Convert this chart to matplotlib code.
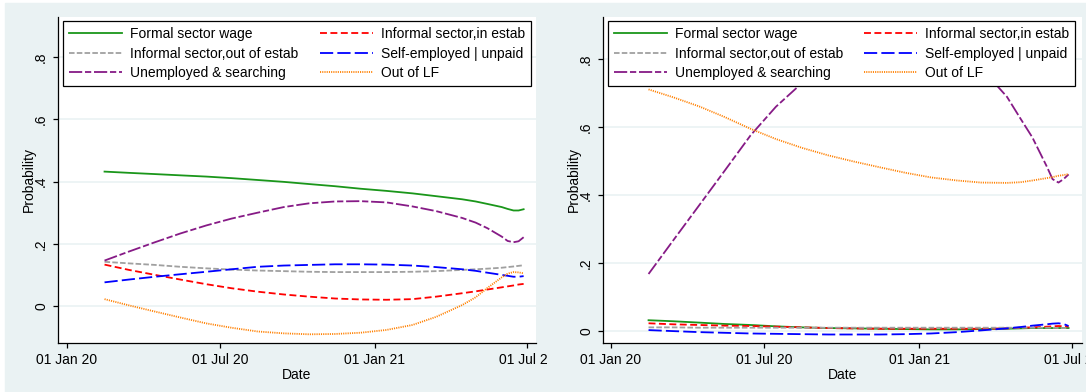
import numpy as np
import matplotlib
matplotlib.use("Agg")
import matplotlib.pyplot as plt
import matplotlib.dates as mdates
from matplotlib.patches import Rectangle

plt.rcParams["font.family"] = ["Liberation Sans", "DejaVu Sans"]
plt.rcParams["lines.scale_dashes"] = False

# ---- data ----
dates = np.array(["2020-02-15", "2020-03-15", "2020-04-15", "2020-05-15", "2020-06-15",
                  "2020-07-15", "2020-08-15", "2020-09-15", "2020-10-15", "2020-11-15",
                  "2020-12-15", "2021-01-15", "2021-02-15", "2021-03-15", "2021-04-15",
                  "2021-05-01", "2021-05-15", "2021-06-01", "2021-06-08", "2021-06-15",
                  "2021-06-21", "2021-06-27"], dtype="datetime64[D]")

labels = ["Formal sector wage", "Informal sector,in estab",
          "Informal sector,out of estab", "Self-employed | unpaid",
          "Unemployed & searching", "Out of LF"]

left_formal = [0.432, 0.428, 0.424, 0.420, 0.416, 0.411, 0.405, 0.399, 0.392, 0.385, 0.377,
               0.370, 0.362, 0.353, 0.343, 0.336, 0.328, 0.318, 0.312, 0.307, 0.307, 0.311]
left_in_estab = [0.133, 0.116, 0.100, 0.085, 0.070, 0.057, 0.046, 0.037, 0.030, 0.024, 0.021,
                 0.020, 0.022, 0.030, 0.041, 0.047, 0.053, 0.060, 0.063, 0.066, 0.069, 0.071]
left_out_estab = [0.142, 0.137, 0.132, 0.126, 0.121, 0.117, 0.114, 0.112, 0.110, 0.109, 0.109,
                  0.109, 0.110, 0.112, 0.116, 0.118, 0.120, 0.123, 0.125, 0.127, 0.129, 0.131]
left_self_emp = [0.076, 0.085, 0.094, 0.102, 0.110, 0.118, 0.126, 0.130, 0.132, 0.134, 0.134,
                 0.133, 0.130, 0.125, 0.118, 0.113, 0.107, 0.100, 0.097, 0.094, 0.094, 0.096]
left_unemp = [0.146, 0.175, 0.205, 0.233, 0.259, 0.281, 0.300, 0.318, 0.330, 0.336, 0.337,
              0.333, 0.320, 0.305, 0.283, 0.268, 0.250, 0.223, 0.209, 0.205, 0.208, 0.221]
left_out_lf = [0.022, 0.002, -0.018, -0.037, -0.056, -0.070, -0.082, -0.088, -0.091, -0.090,
               -0.086, -0.077, -0.061, -0.035, 0.003, 0.028, 0.058, 0.092, 0.104, 0.109, 0.108,
               0.105]

right_formal = [0.032, 0.029, 0.025, 0.021, 0.018, 0.014, 0.011, 0.009, 0.008, 0.007, 0.006,
                0.005, 0.005, 0.006, 0.007, 0.008, 0.009, 0.009, 0.009, 0.009, 0.009, 0.009]
right_in_estab = [0.023, 0.020, 0.018, 0.016, 0.015, 0.013, 0.011, 0.009, 0.008, 0.007, 0.007,
                  0.007, 0.007, 0.007, 0.008, 0.010, 0.011, 0.013, 0.014, 0.015, 0.014, 0.013]
right_out_estab = [0.011, 0.011, 0.010, 0.010, 0.010, 0.010, 0.010, 0.010, 0.010, 0.010, 0.010,
                   0.010, 0.010, 0.010, 0.010, 0.010, 0.010, 0.010, 0.010, 0.009, 0.009, 0.009]
right_self_emp = [0.003, 0.000, -0.003, -0.005, -0.007, -0.008, -0.009, -0.010, -0.010, -0.010,
                  -0.009, -0.007, -0.003, 0.002, 0.008, 0.012, 0.016, 0.020, 0.022, 0.023, 0.021,
                  0.015]
right_unemp = [0.168, 0.266, 0.370, 0.471, 0.576, 0.660, 0.730, 0.795, 0.845, 0.878, 0.890,
               0.880, 0.840, 0.775, 0.689, 0.625, 0.570, 0.485, 0.447, 0.437, 0.447, 0.461]
right_out_lf = [0.711, 0.688, 0.661, 0.630, 0.595, 0.565, 0.539, 0.517, 0.499, 0.482, 0.466,
                0.452, 0.443, 0.437, 0.436, 0.438, 0.443, 0.450, 0.453, 0.457, 0.459, 0.462]

tick_dates = np.array(["2020-01-01", "2020-07-01", "2021-01-01", "2021-07-01"],
                      dtype="datetime64[D]")
tick_labels = ["01 Jan 20", "01 Jul 20", "01 Jan 21", "01 Jul 21"]
yticks = [0, 0.2, 0.4, 0.6, 0.8]
ytick_labels = ["0", ".2", ".4", ".6", ".8"]

# ---- styles ----
colors = ["#1a961a", "#ff0000", "#a0a0a0", "#0000ff", "#861a86", "#ff8000"]
styles = ["-", (0, (5, 2.5)), (0, (4, 1.6)), (0, (9.5, 3)),
          (0, (9.5, 2, 4.5, 2)), (0, (0.8, 0.8))]
bg = "#eaf2f3"

W, H = 1086, 392
fig = plt.figure(figsize=(W / 100, H / 100), dpi=100, facecolor="white")

fig.add_artist(Rectangle((5 / W, 0), (548 - 5) / W, 1 - 3 / H,
                         transform=fig.transFigure, color=bg, zorder=-1))
fig.add_artist(Rectangle((548 / W, 0), 1 - 548 / W, 1 - 3 / H,
                         transform=fig.transFigure, color=bg, zorder=1))

x = mdates.date2num(dates)
jan1 = mdates.date2num(np.datetime64("2020-01-01"))


def draw_panel(ax, series, xlim_days, ylim, legend_box):
    for vals, lab, c, ls in zip(series, labels, colors, styles):
        ax.plot(x, vals, color=c, linestyle=ls, lw=1.3, label=lab)
    ax.set_facecolor("white")
    ax.set_xlim(jan1 + xlim_days[0], jan1 + xlim_days[1])
    ax.set_ylim(*ylim)
    ax.set_xticks(mdates.date2num(tick_dates))
    ax.set_xticklabels(tick_labels)
    ax.set_yticks(yticks)
    ax.set_yticklabels(ytick_labels, rotation=90, va="center")
    ax.tick_params(direction="out", length=3.6, width=0.9, labelsize=10,
                   color="black", pad=3.5)
    ax.yaxis.grid(True, color=bg, lw=1.2)
    ax.set_axisbelow(True)
    for s in ["top", "right"]:
        ax.spines[s].set_visible(False)
    for s in ["left", "bottom"]:
        ax.spines[s].set_linewidth(0.9)
    ax.set_xlabel("Date", fontsize=10, labelpad=1)
    ax.set_ylabel("Probability", fontsize=10, labelpad=-1.5)

    h, l = ax.get_legend_handles_labels()
    order = [0, 2, 4, 1, 3, 5]
    leg = ax.legend([h[i] for i in order], [l[i] for i in order], ncol=2,
                    loc="upper left", bbox_to_anchor=legend_box, mode="expand",
                    borderaxespad=0, fontsize=10, handlelength=3.8,
                    handletextpad=0.55, labelspacing=0.38, borderpad=0.45,
                    fancybox=False, framealpha=1, edgecolor="black")
    leg.get_frame().set_linewidth(0.9)


ax1 = fig.add_axes([58 / W, 1 - 343 / H, (536 - 58) / W, (343 - 17) / H], zorder=0)
draw_panel(ax1,
           [left_formal, left_in_estab, left_out_estab, left_self_emp, left_unemp, left_out_lf],
           (-10.3, 557.7), (-0.119, 0.929),
           (5 / 478, 1 - 4 / 326, 468 / 478, 0))

ax2 = fig.add_axes([603 / W, 1 - 343 / H, (1082 - 603) / W, (343 - 17) / H], zorder=2)
draw_panel(ax2,
           [right_formal, right_in_estab, right_out_estab, right_self_emp, right_unemp, right_out_lf],
           (-9.0, 558.9), (-0.035, 0.924),
           (5 / 479, 1 - 4 / 326, 467 / 479, 0))

fig.savefig("out.png", dpi=100, facecolor=fig.get_facecolor())
